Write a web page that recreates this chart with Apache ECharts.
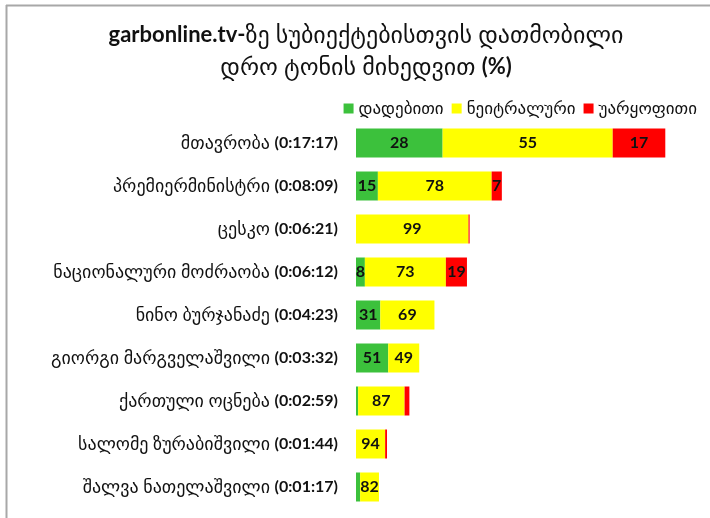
<!DOCTYPE html>
<html>
<head>
<meta charset="utf-8">
<script src="https://cdn.jsdelivr.net/npm/echarts@6/dist/echarts.min.js"></script>
<style>
  html, body { margin: 0; padding: 0; background: #fff; }
  #chart { width: 710px; height: 518px; }
</style>
</head>
<body>
<div id="chart"></div>
<script>
// subjects, top to bottom
const names = [
  "მთავრობა", "პრემიერმინისტრი", "ცესკო", "ნაციონალური მოძრაობა",
  "ნინო ბურჯანაძე", "გიორგი მარგველაშვილი", "ქართული ოცნება",
  "სალომე ზურაბიშვილი", "შალვა ნათელაშვილი"
];
const times = [
  "0:17:17", "0:08:09", "0:06:21", "0:06:12",
  "0:04:23", "0:03:32", "0:02:59", "0:01:44", "0:01:17"
];
// tone shares, %
const positive = [28, 15, 0, 8, 31, 51, 4, 0, 18];
const neutral  = [55, 78, 99, 73, 69, 49, 87, 94, 82];
const negative = [17, 7, 1, 19, 0, 0, 9, 6, 0];

const toneNames = ["დადებითი", "ნეიტრალური", "უარყოფითი"];
const toneColors = ["#3cc13c", "#ffff00", "#ff0000"];

const fontFam = "Lato, 'DejaVu Sans', sans-serif";

// bar length = airtime, split by share
const secs = times.map(t => {
  const p = t.split(":").map(Number);
  return p[0] * 3600 + p[1] * 60 + p[2];
});
const categories = names.map((n, i) => n + "|" + times[i]);

function makeSeries(idx, pcts) {
  return {
    name: toneNames[idx],
    type: "bar",
    stack: "all",
    barWidth: 29,
    itemStyle: { color: toneColors[idx] },
    label: {
      show: true,
      position: "inside",
      color: "#111",
      fontFamily: fontFam,
      fontWeight: "bold",
      fontSize: 16,
      formatter: p => (p.value >= 20 ? String(pcts[p.dataIndex]) : "")
    },
    data: pcts.map((v, i) => v * secs[i] / 100)
  };
}

const chart = echarts.init(document.getElementById("chart"));
chart.setOption({
  animation: false,
  title: {
    left: 361,
    top: 14,
    textAlign: "center",
    text: "{b|garbonline.tv-}{n|ზე სუბიექტებისთვის დათმობილი}\n{n|დრო ტონის მიხედვით }{b|(%)}",
    textStyle: {
      fontWeight: "normal",
      rich: {
        b: { fontFamily: fontFam, fontWeight: "bold", fontSize: 22, color: "#111", lineHeight: 32 },
        n: { fontFamily: fontFam, fontWeight: "normal", fontSize: 24, color: "#111", lineHeight: 32 }
      }
    }
  },
  legend: {
    right: 8,
    top: 95,
    itemWidth: 10,
    itemHeight: 10,
    itemGap: 8,
    icon: "rect",
    textStyle: { fontFamily: fontFam, fontSize: 17, color: "#111", padding: [0, 0, 0, 0] },
    data: toneNames
  },
  grid: { left: 356, right: 11, top: 121.5, height: 387, containLabel: false },
  xAxis: {
    type: "value",
    min: 0,
    max: 1150,
    show: false
  },
  yAxis: {
    type: "category",
    inverse: true,
    data: categories,
    axisLine: { show: false },
    axisTick: { show: false },
    axisLabel: {
      margin: 18,
      formatter: v => {
        const [n, t] = v.split("|");
        return "{n|" + n + " }{t|(" + t + ")}";
      },
      rich: {
        n: { fontFamily: fontFam, fontSize: 18, color: "#111" },
        t: { fontFamily: fontFam, fontSize: 16, fontWeight: "bold", color: "#111" }
      }
    }
  },
  graphic: [
    { type: "line", shape: { x1: 6, y1: 5.5, x2: 710, y2: 5.5 }, style: { stroke: "#a8a8a8", lineWidth: 2 } },
    { type: "line", shape: { x1: 6.5, y1: 5, x2: 6.5, y2: 518 }, style: { stroke: "#a8a8a8", lineWidth: 2 } }
  ],
  series: [
    makeSeries(0, positive),
    makeSeries(1, neutral),
    makeSeries(2, negative)
  ]
});
</script>
</body>
</html>
